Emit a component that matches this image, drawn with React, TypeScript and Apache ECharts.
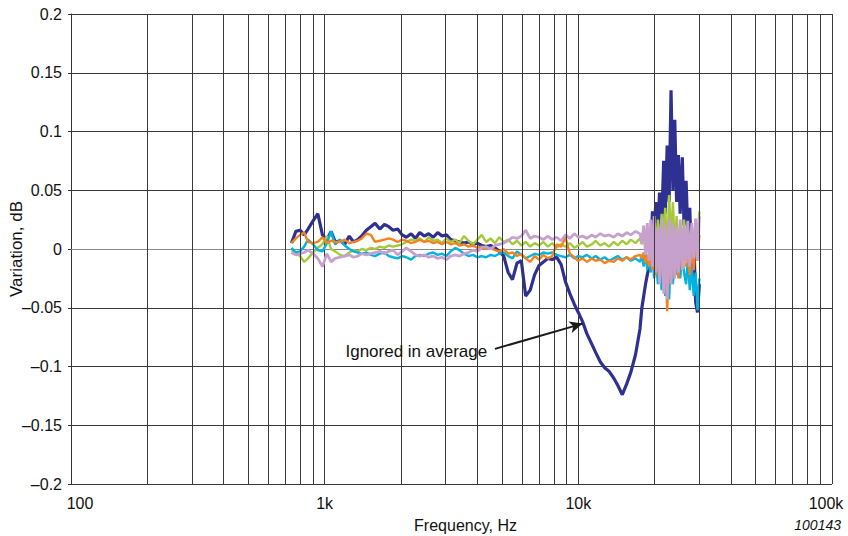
import React, { useEffect, useRef } from "react";
import * as echarts from "echarts";

const freqs = [
  740, 770, 800, 830, 860, 900, 940, 980, 1020, 1060,
  1100, 1150, 1200, 1250, 1300, 1350, 1400, 1460, 1520, 1580,
  1650, 1720, 1790, 1860, 1940, 2020, 2100, 2190, 2280, 2370,
  2470, 2570, 2680, 2790, 2900, 3020, 3140, 3270, 3400, 3540,
  3690, 3840, 4000, 4160, 4330, 4510, 4690, 4880, 5080, 5290,
  5500, 5730, 5960, 6200, 6460, 6720, 7000, 7280, 7580, 7890,
  8210, 8550, 8900, 9260, 9640, 10000, 10400, 10800, 11300, 11700,
  12200, 12700, 13200, 13800, 14300, 14900, 15500, 16100, 16800, 17500,
  17800, 18100, 18400, 18700, 19000, 19300, 19600, 19900, 20200, 20600,
  20900, 21300, 21700, 22000, 22400, 22800, 23200, 23600, 24000, 24400,
  24800, 25200, 25700, 26100, 26600, 27000, 27500, 28000, 28500, 29000,
  29500, 30000,
];

const navy = [
  0.005, 0.015, 0.016, 0.012, 0.017, 0.024, 0.030, 0.012, 0.008, 0.015,
  0.006, 0.007, 0.004, 0.011, 0.006, 0.008, 0.011, 0.016, 0.019, 0.022,
  0.017, 0.021, 0.019, 0.016, 0.017, 0.012, 0.010, 0.013, 0.009, 0.014,
  0.011, 0.013, 0.010, 0.014, 0.011, 0.012, 0.008, 0.007, 0.006, 0.005,
  0.006, 0.004, 0.005, 0.003, 0.002, 0.003, 0.001, -0.002, -0.006, -0.020,
  -0.026, -0.012, -0.010, -0.040, -0.035, -0.022, -0.014, -0.011, -0.008, -0.009,
  -0.007, -0.013, -0.028, -0.038, -0.047, -0.054, -0.062, -0.072, -0.081, -0.088,
  -0.096, -0.101, -0.104, -0.110, -0.116, -0.124, -0.115, -0.105, -0.090, -0.068,
  -0.050, -0.040, -0.030, -0.022, -0.015, 0.000, 0.032, 0.010, 0.040, 0.015,
  0.048, 0.020, 0.075, 0.030, 0.088, 0.040, 0.135, 0.050, 0.110, 0.040,
  0.080, 0.030, 0.078, 0.020, 0.058, 0.015, 0.035, -0.020, 0.010, -0.045,
  -0.054, -0.030,
];

const orange = [
  0.005, 0.009, 0.012, 0.014, 0.006, 0.005, 0.006, 0.010, 0.005, 0.007,
  0.006, 0.006, 0.008, 0.005, 0.006, 0.007, 0.009, 0.013, 0.012, 0.006,
  0.007, 0.008, 0.009, 0.008, 0.006, 0.008, 0.007, 0.005, 0.006, 0.008,
  0.006, 0.007, 0.005, 0.006, 0.004, 0.006, 0.004, 0.005, 0.003, 0.004,
  0.002, 0.003, 0.001, 0.002, 0.000, 0.001, -0.001, -0.002, 0.000, -0.004,
  -0.003, -0.006, -0.004, -0.008, -0.011, -0.006, -0.009, -0.005, -0.008, -0.006,
  0.004, 0.002, 0.010, -0.004, -0.007, -0.010, -0.008, -0.011, -0.008, -0.010,
  -0.009, -0.012, -0.010, -0.011, -0.008, -0.010, -0.007, -0.009, -0.006, -0.005,
  -0.008, -0.003, -0.012, -0.005, -0.015, -0.004, -0.018, -0.006, -0.022, -0.002,
  -0.028, 0.002, -0.035, 0.004, -0.053, 0.000, -0.030, 0.003, -0.020, -0.002,
  -0.025, 0.002, -0.018, 0.005, -0.015, 0.000, -0.022, 0.004, -0.018, 0.008,
  -0.010, 0.012,
];

const green = [
  -0.001, -0.004, -0.006, -0.011, -0.008, -0.003, 0.001, 0.004, 0.011, 0.000,
  -0.002, -0.005, -0.006, -0.003, -0.001, -0.002, 0.000, -0.001, 0.001, 0.000,
  0.002, 0.001, 0.003, 0.002, 0.003, 0.004, 0.006, 0.008, 0.007, 0.009,
  0.006, 0.010, 0.007, 0.008, 0.005, 0.009, 0.006, 0.008, 0.005, 0.011,
  0.007, 0.004, 0.008, 0.012, 0.006, 0.009, 0.005, 0.010, 0.006, 0.008,
  0.004, 0.007, 0.003, 0.006, 0.002, 0.005, 0.003, 0.006, 0.002, 0.005,
  0.001, 0.004, 0.002, 0.005, 0.001, 0.003, 0.006, 0.002, 0.004, 0.007,
  0.003, 0.005, 0.002, 0.006, 0.003, 0.007, 0.004, 0.008, 0.005, 0.009,
  0.004, 0.012, 0.002, 0.015, 0.000, 0.018, -0.005, 0.022, 0.002, 0.025,
  -0.002, 0.030, 0.005, 0.035, -0.005, 0.046, 0.008, 0.040, 0.000, 0.028,
  -0.008, 0.022, 0.002, 0.025, -0.005, 0.018, 0.000, 0.020, -0.010, 0.025,
  0.005, 0.032,
];

const cyan = [
  0.001, -0.003, -0.002, 0.002, 0.008, 0.004, -0.001, -0.002, 0.005, 0.015,
  0.004, 0.008, 0.003, 0.000, -0.002, -0.003, -0.004, -0.003, -0.005, -0.006,
  -0.004, -0.003, -0.006, -0.007, -0.008, -0.006, -0.007, -0.009, -0.006, -0.005,
  -0.006, -0.004, -0.003, -0.005, -0.004, -0.006, -0.002, 0.001, -0.001, -0.004,
  -0.006, -0.005, -0.007, -0.006, -0.007, -0.005, -0.006, -0.004, -0.003, -0.006,
  -0.008, -0.002, -0.005, -0.008, -0.006, -0.004, -0.005, -0.003, -0.004, -0.003,
  -0.005, -0.006, -0.007, -0.005, -0.008, -0.006, -0.007, -0.005, -0.008, -0.006,
  -0.009, -0.007, -0.010, -0.008, -0.006, -0.009, -0.007, -0.010, -0.008, -0.011,
  -0.005, -0.015, -0.004, -0.018, -0.006, -0.020, -0.003, -0.025, -0.008, -0.030,
  -0.004, -0.035, 0.000, -0.040, -0.010, -0.043, 0.002, -0.030, -0.008, -0.022,
  0.000, -0.025, -0.006, -0.020, -0.030, -0.008, -0.035, -0.015, -0.040, -0.020,
  -0.052, -0.025,
];

const lilac = [
  -0.003, -0.005, -0.004, -0.003, -0.001, -0.004, -0.008, -0.015, -0.004, -0.011,
  -0.008, -0.007, -0.006, -0.005, -0.007, -0.006, -0.004, -0.005, -0.004, -0.003,
  -0.002, -0.004, -0.002, -0.001, -0.005, -0.002, 0.001, -0.002, -0.005, -0.006,
  -0.005, -0.007, -0.006, -0.008, -0.007, -0.009, -0.006, -0.005, -0.006, -0.004,
  -0.003, -0.001, -0.002, 0.001, 0.002, 0.000, 0.003, 0.004, 0.005, 0.007,
  0.010, 0.009, 0.011, 0.016, 0.009, 0.011, 0.010, 0.008, 0.011, 0.008,
  0.010, 0.007, 0.012, 0.009, 0.013, 0.010, 0.011, 0.009, 0.012, 0.010,
  0.013, 0.011, 0.012, 0.010, 0.013, 0.011, 0.014, 0.012, 0.015, 0.013,
  0.005, 0.020, -0.005, 0.022, -0.010, 0.025, -0.015, 0.028, -0.020, 0.018,
  -0.030, 0.025, -0.038, 0.020, -0.043, 0.026, -0.030, 0.022, -0.025, 0.018,
  -0.020, 0.025, -0.018, 0.020, -0.012, 0.024, -0.015, 0.022, -0.008, 0.026,
  -0.010, 0.028,
];

const minorFreqs = [
  200, 300, 400, 500, 600, 700, 800, 900,
  2000, 3000, 4000, 5000, 6000, 7000, 8000, 9000,
  20000, 30000, 40000, 50000, 60000, 70000, 80000, 90000,
];

const xTickLabels: Record<number, string> = { 100: "100", 1000: "1k", 10000: "10k", 100000: "100k" };

const arrowStart = [4690, -0.085];
const arrowEnd = [10400, -0.0635];

const FONT = "Liberation Sans, Arial, sans-serif";

function pairs(vals: number[]) {
  return freqs.map((f, i) => [f, vals[i]]);
}

export default function App() {
  const ref = useRef<HTMLDivElement>(null);
  useEffect(() => {
    if (!ref.current) return;
    const chart = echarts.init(ref.current, undefined, { renderer: "svg" });
    const grid = "#3a3a3a";
    const mk = (name: string, vals: number[], color: string, w: number) => ({
      name,
      type: "line",
      data: pairs(vals),
      showSymbol: false,
      symbol: "none",
      lineStyle: { color, width: w, join: "bevel" },
      itemStyle: { color },
      z: 3,
    });
    chart.setOption({
      animation: false,
      grid: { left: 71, right: 16, top: 14, bottom: 52, outerBoundsMode: "none", containLabel: false },
      xAxis: {
        type: "log",
        logBase: 10,
        min: 100,
        max: 100000,
        name: "Frequency, Hz",
        nameLocation: "middle",
        nameGap: 33,
        nameMoveOverlap: false,
        nameTextStyle: { fontFamily: FONT, fontSize: 16, color: "#111", padding: [0, 0, 0, 28] },
        axisLine: { lineStyle: { color: "#888", width: 1 } },
        axisTick: { show: false },
        splitLine: { show: true, lineStyle: { color: grid, width: 1 } },
        axisLabel: {
          fontFamily: FONT,
          fontSize: 16,
          color: "#111",
          margin: 11,
          formatter: (v: number) => {
            const s = xTickLabels[Math.round(v)] ?? "";
            if (Math.round(v) === 100) return "{first|" + s + "}";
            if (Math.round(v) === 100000) return "{last|" + s + "}";
            return s;
          },
          rich: {
            first: { fontFamily: FONT, fontSize: 16, color: "#111", padding: [0, 0, 0, 18] },
            last: { fontFamily: FONT, fontSize: 16, color: "#111", padding: [0, 12, 0, 0] },
          },
        },
      },
      yAxis: {
        type: "value",
        min: -0.2,
        max: 0.2,
        interval: 0.05,
        name: "Variation, dB",
        nameLocation: "middle",
        nameGap: 46,
        nameMoveOverlap: false,
        nameTextStyle: { fontFamily: FONT, fontSize: 17, color: "#111" },
        axisLine: { show: true, lineStyle: { color: "#333", width: 1 } },
        axisTick: { show: true, length: 3, lineStyle: { color: "#333" } },
        splitLine: { show: true, lineStyle: { color: grid, width: 1 } },
        axisLabel: {
          fontFamily: FONT,
          fontSize: 16,
          color: "#111",
          margin: 9,
          formatter: (v: number) => {
            const r = +v.toFixed(2);
            if (r === 0) return "0";
            return r < 0 ? "\u2013" + String(Math.abs(r)) : String(r);
          },
        },
      },
      graphic: [
        {
          type: "text",
          right: 7,
          bottom: 4,
          style: { text: "100143", font: "italic 14px " + FONT, fill: "#111" },
        },
      ],
      series: [
        {
          name: "grid",
          type: "line",
          data: [],
          silent: true,
          markLine: {
            silent: true,
            symbol: ["none", "none"],
            label: { show: false },
            lineStyle: { color: grid, width: 1, type: "solid" },
            data: minorFreqs.map((f) => ({ xAxis: f })),
          },
        },
        mk("A", navy, "#2e3192", 3.2),
        mk("B", green, "#a5c93a", 2.4),
        mk("C", cyan, "#00b3e0", 2.4),
        mk("D", orange, "#f5821f", 2.4),
        mk("E", lilac, "#c7a1cd", 2.8),
        {
          name: "annotation",
          type: "line",
          data: [],
          silent: true,
          z: 5,
          markLine: {
            silent: true,
            symbol: ["none", "arrow"],
            symbolSize: [9, 13],
            lineStyle: { color: "#1a1a1a", width: 2, type: "solid" },
            label: {
              show: true,
              position: "start",
              formatter: "Ignored in average",
              fontFamily: FONT,
              fontSize: 17,
              color: "#111",
              distance: 8,
            },
            data: [[{ coord: arrowStart }, { coord: arrowEnd }]],
          },
        },
      ],
    });
    return () => chart.dispose();
  }, []);
  return (
    <div
      ref={ref}
      style={{ position: "fixed", left: 0, top: 0, width: 848, height: 536, background: "#fff" }}
    />
  );
}
